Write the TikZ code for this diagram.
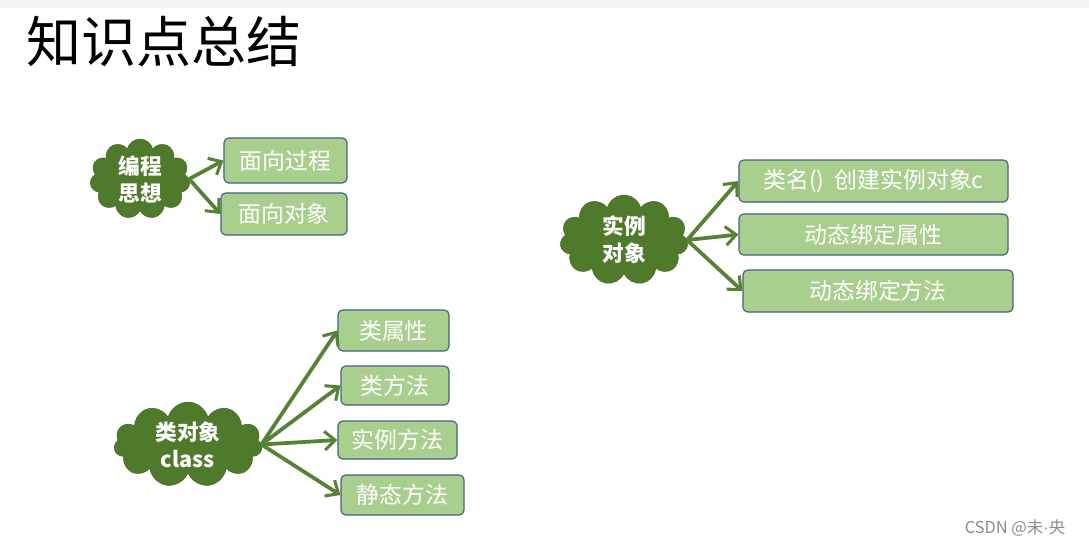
\documentclass[tikz,border=0pt]{standalone}
\usepackage{fontspec}
\setmainfont{Noto Sans CJK SC}
\newfontfamily\dotfont{Liberation Sans}
\usetikzlibrary{arrows.meta,shapes.symbols}
\definecolor{cdark}{HTML}{4F7A2C}
\definecolor{cleaf}{HTML}{A9CF8E}
\definecolor{cedge}{HTML}{44617B}
\definecolor{carrow}{HTML}{568235}
\definecolor{cgray}{HTML}{8C8C8C}
\definecolor{cband}{HTML}{F2F2F2}

\tikzset{
  idea/.style={cloud, cloud puffs=11, cloud ignores aspect, fill=cdark,
    draw=cdark!85!black, text=white, align=center, inner sep=0pt,
    font=\bfseries\fontsize{18.5}{23}\selectfont},
  leaf/.style={rectangle, rounded corners=4pt, fill=cleaf, draw=cedge,
    line width=1pt, text=white, font=\fontsize{19.5}{22}\selectfont},
  link/.style={-{Straight Barb[length=9pt,width=16pt,line width=2.6pt]},
    carrow, line width=3.2pt}
}

\begin{document}
\begin{tikzpicture}[x=0.03cm,y=-0.03cm]
  % Canvas
  \useasboundingbox (0,0) rectangle (1089,547);
  \fill[white] (0,0) rectangle (1089,547);
  \fill[cband] (0,0) rectangle (1089,8);

  % Title
  \node[anchor=west,font=\fontsize{47}{50}\selectfont] (title) at (22,42) {知识点总结};

  % Programming ideas
  \node[idea,minimum width=3.0cm,minimum height=2.4cm] (t1) at (140,179) {编程\\思想};
  \node[leaf,minimum width=3.69cm,minimum height=1.35cm] (p1) at (285.5,160.5) {面向过程};
  \node[leaf,minimum width=3.78cm,minimum height=1.26cm] (p2) at (284,214) {面向对象};
  \draw[link] (t1.east) -- (p1.west);
  \draw[link] (t1.east) -- (p2.west);

  % Instance object
  \node[idea,minimum width=3.84cm,minimum height=2.7cm] (t2) at (624,240) {实例\\对象};
  \node[leaf,minimum width=8.07cm,minimum height=1.26cm] (i1) at (873.5,181) {类名()~~创建实例对象c};
  \node[leaf,minimum width=8.07cm,minimum height=1.23cm] (i2) at (873.5,234.5) {动态绑定属性};
  \node[leaf,minimum width=8.1cm,minimum height=1.26cm] (i3) at (878,291) {动态绑定方法};
  \draw[link] (t2.east) -- (i1.west);
  \draw[link] (t2.east) -- (i2.west);
  \draw[link] (t2.east) -- (i3.west);

  % Class object
  \node[idea,minimum width=4.44cm,minimum height=2.55cm] (t3) at (188,444.5) {类对象\\class};
  \node[leaf,minimum width=3.33cm,minimum height=1.23cm] (c1) at (393.5,330.5) {类属性};
  \node[leaf,minimum width=3.24cm,minimum height=1.17cm] (c2) at (395,385.5) {类方法};
  \node[leaf,minimum width=3.57cm,minimum height=1.14cm] (c3) at (397.5,440) {实例方法};
  \node[leaf,minimum width=3.69cm,minimum height=1.2cm] (c4) at (402.5,495) {静态方法};
  \foreach \c in {c1,c2,c3,c4}
    \draw[link] (t3.east) -- (\c.west);

  % Watermark
  \node[cgray,font=\fontsize{14}{16}\selectfont] (mark) at (1015,528) {CSDN @未{\dotfont·}央};
\end{tikzpicture}
\end{document}
